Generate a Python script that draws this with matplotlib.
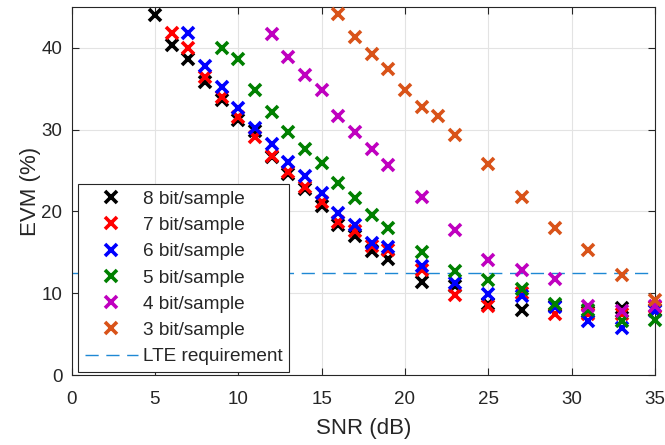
import numpy as np
import matplotlib
matplotlib.use("Agg")
import matplotlib.pyplot as plt

plt.rcParams['font.family'] = ['Liberation Sans', 'DejaVu Sans']

# SNR (dB) sample points per curve
snr8 = [5, 6, 7, 8, 9, 10, 11, 12, 13, 14, 15, 16, 17, 18, 19, 21, 23, 25, 27, 29, 31, 33, 35]
evm8 = [44.0, 40.4, 38.6, 35.8, 33.6, 31.2, 29.8, 26.6, 24.6, 22.7, 20.7, 18.4, 17.0, 15.2, 14.2,
        11.4, 10.9, 8.7, 8.0, 8.4, 7.7, 8.2, 8.0]

snr7 = [6, 7, 8, 9, 10, 11, 12, 13, 14, 15, 16, 17, 18, 19, 21, 23, 25, 27, 29, 31, 33, 35]
evm7 = [41.8, 40.0, 36.4, 34.0, 31.5, 29.1, 26.8, 24.8, 23.0, 21.2, 18.7, 17.6, 15.8, 15.3,
        12.9, 9.8, 8.4, 10.0, 7.5, 7.5, 7.5, 8.3]

snr6 = [7, 8, 9, 10, 11, 12, 13, 14, 15, 16, 17, 18, 19, 21, 23, 25, 27, 29, 31, 33, 35]
evm6 = [41.8, 37.8, 35.2, 32.6, 30.2, 28.3, 26.1, 24.3, 22.2, 19.8, 18.3, 16.1, 15.6,
        13.3, 11.2, 9.9, 9.6, 8.3, 6.6, 5.8, 7.8]

snr5 = [9, 10, 11, 12, 13, 14, 15, 16, 17, 18, 19, 21, 23, 25, 27, 29, 31, 33, 35]
evm5 = [40.0, 38.6, 34.9, 32.1, 29.7, 27.6, 25.9, 23.5, 21.6, 19.6, 18.0, 15.1, 12.7, 11.6,
        10.5, 8.7, 8.0, 6.6, 6.7]

snr4 = [12, 13, 14, 15, 16, 17, 18, 19, 21, 23, 25, 27, 29, 31, 33, 35]
evm4 = [41.7, 38.9, 36.7, 34.8, 31.7, 29.7, 27.6, 25.7, 21.8, 17.7, 14.1, 12.8, 11.8, 8.4, 7.8, 8.4]

snr3 = [16, 17, 18, 19, 20, 21, 22, 23, 25, 27, 29, 31, 33, 35]
evm3 = [44.2, 41.3, 39.3, 37.4, 34.9, 32.8, 31.7, 29.3, 25.8, 21.8, 18.0, 15.3, 12.2, 9.2]

lte_req = 12.5

labels = ['8 bit/sample', '7 bit/sample', '6 bit/sample',
          '5 bit/sample', '4 bit/sample', '3 bit/sample']
colors = ['#000000', '#FF0000', '#0000FF', '#008000', '#BF00BF', '#D95319']

fig = plt.figure(figsize=(6.65, 4.45), dpi=100)
ax = fig.add_axes([71.5 / 665, 1 - 375 / 445, (655 - 71.5) / 665, (375 - 7) / 445])

series = [(snr8, evm8), (snr7, evm7), (snr6, evm6), (snr5, evm5), (snr4, evm4), (snr3, evm3)]
for (x, y), c, lab in zip(series, colors, labels):
    ax.plot(x, y, linestyle='none', marker='x', markersize=8, markeredgewidth=2.6,
            color=c, label=lab, clip_on=False, zorder=3)

ax.axhline(lte_req, color='#1E88D4', linestyle=(0, (9.5, 5.5)), linewidth=1.0,
           label='LTE requirement', zorder=2)

ax.set_xlim(0, 35)
ax.set_ylim(0, 45)
ax.set_xticks(np.arange(0, 36, 5))
ax.set_yticks(np.arange(0, 41, 10))
ax.grid(True, color='#E3E3E3', linewidth=0.8)
ax.set_axisbelow(True)
ax.tick_params(direction='in', top=True, right=True, labelsize=13.5, length=5,
               color='#262626', labelcolor='#262626', width=0.8)
ax.tick_params(axis='x', pad=11.5)
ax.tick_params(axis='y', pad=6.5)
for s in ax.spines.values():
    s.set_color('#262626')
    s.set_linewidth(0.8)

ax.set_xlabel('SNR (dB)', fontsize=16, color='#262626', labelpad=7.5)
ax.set_ylabel('EVM (%)', fontsize=16, color='#262626', labelpad=0)

leg = ax.legend(loc='lower left', bbox_to_anchor=(0.0117, 0.009), borderaxespad=0,
                fontsize=13.7, frameon=True, fancybox=False, edgecolor='#262626',
                framealpha=1, handlelength=2.8, handletextpad=0.25, labelspacing=0.47,
                borderpad=0.33)
leg.get_frame().set_linewidth(0.8)
for t in leg.get_texts():
    t.set_color('#262626')

fig.savefig('out.png', dpi=100)
